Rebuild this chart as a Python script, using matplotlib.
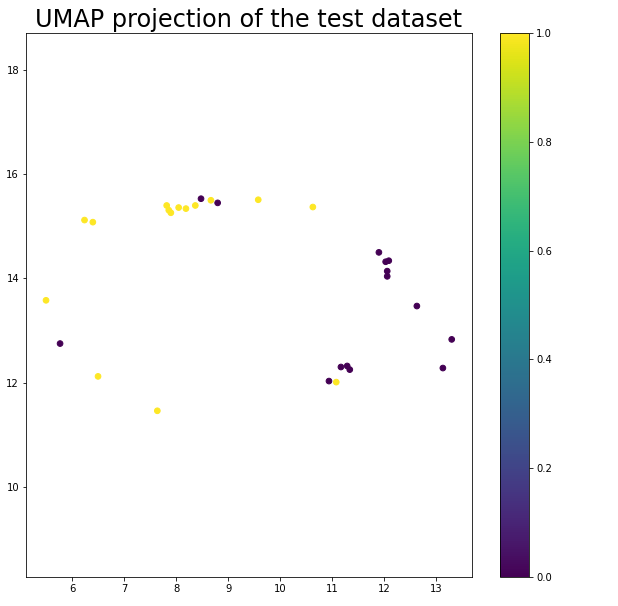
import numpy as np
import matplotlib
matplotlib.use('Agg')
import matplotlib.pyplot as plt

# UMAP embedding coordinates and class labels
x = [6.24, 6.40, 7.82, 7.86, 7.90, 8.05, 8.19, 8.37, 8.67, 9.58, 10.63, 5.50, 6.50, 7.64, 11.08,
     8.48, 8.80, 5.77, 11.90, 12.03, 12.09, 12.06, 12.06, 12.63, 13.30, 13.13, 11.17, 11.29, 11.34, 10.94]
y = [15.12, 15.08, 15.40, 15.31, 15.26, 15.36, 15.34, 15.40, 15.50, 15.51, 15.37, 13.58, 12.12, 11.46, 12.01,
     15.53, 15.45, 12.75, 14.50, 14.32, 14.34, 14.14, 14.04, 13.47, 12.83, 12.28, 12.30, 12.32, 12.25, 12.03]
labels = [1] * 15 + [0] * 15

W, H = 618, 606
fig = plt.figure(figsize=(W / 72, H / 72), dpi=72)
ax = fig.add_axes([26 / W, (H - 577) / H, 446 / W, 544 / H])
cax = fig.add_axes([500 / W, (H - 577) / H, 29 / W, 544 / H])

sc = ax.scatter(x, y, c=labels, cmap='viridis', s=32)
ax.set_xlim(5.115, 13.69)
ax.set_ylim(8.27, 18.71)
ax.set_title('UMAP projection of the test dataset', fontsize=24)

cb = fig.colorbar(sc, cax=cax)
cb.set_ticks([0.0, 0.2, 0.4, 0.6, 0.8, 1.0])

fig.savefig('out.png', dpi=72)
